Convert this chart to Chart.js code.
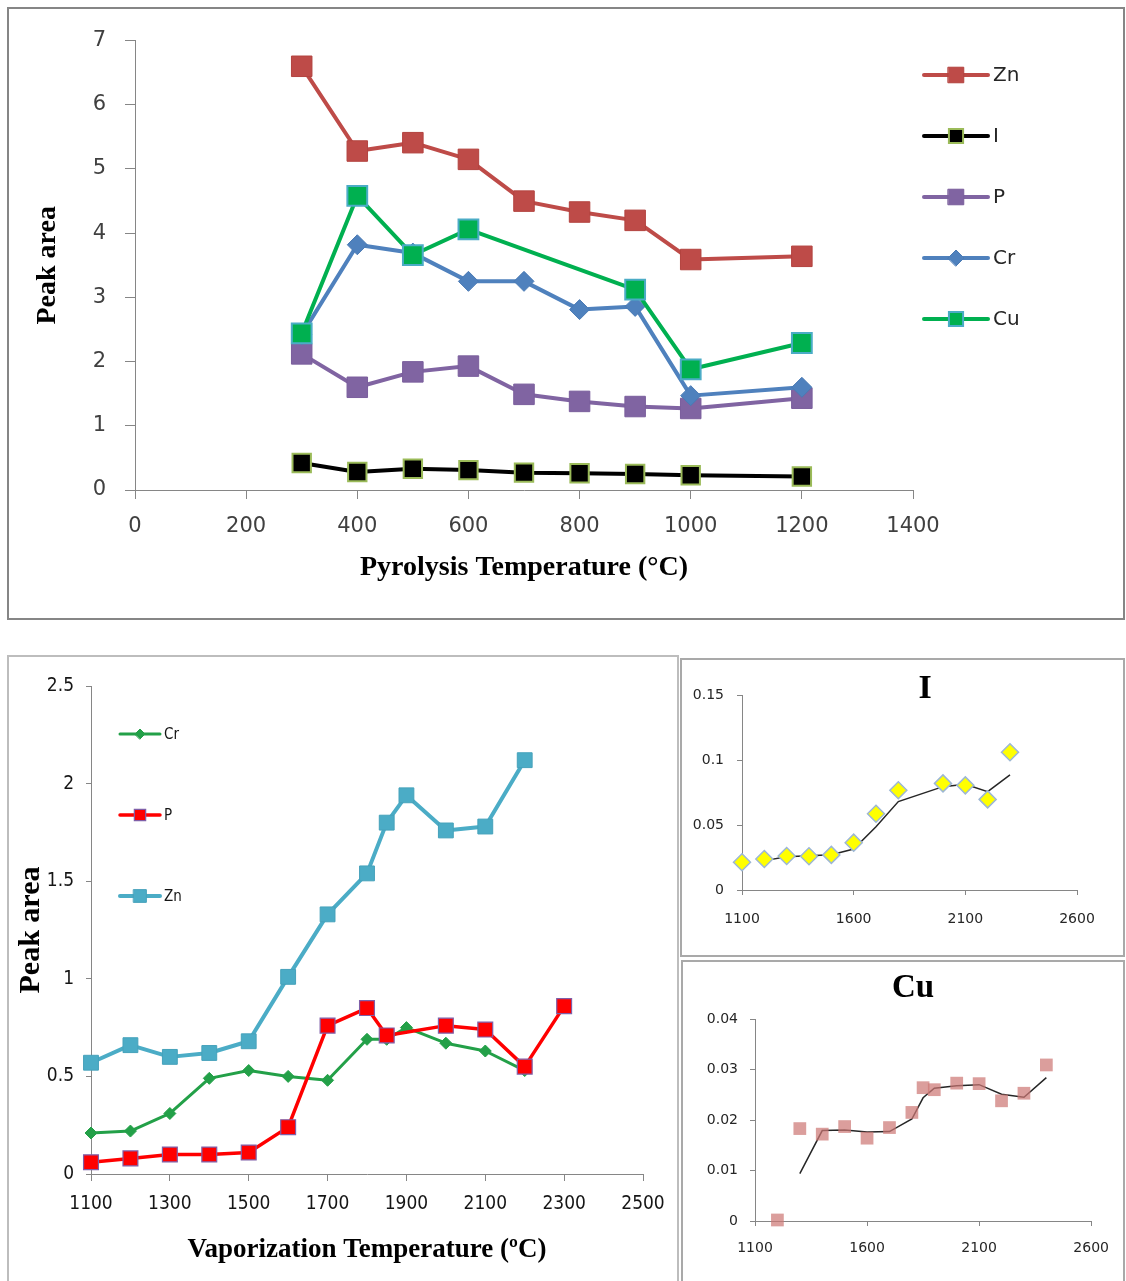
<!DOCTYPE html>
<html>
<head>
<meta charset="utf-8">
<title>Peak area vs temperature</title>
<script src="https://cdn.jsdelivr.net/npm/chart.js@4.4.1/dist/chart.umd.min.js"></script>
<style>
  html, body { margin: 0; padding: 0; background: #fff; }
  #page { position: relative; width: 1126px; height: 1281px; overflow: hidden; }
  .panel { position: absolute; box-sizing: border-box; background: #fff; }
  .panel canvas { display: block; }
  #p1 { left: 7px; top: 7px; width: 1118px; height: 613px; border: 2px solid #868686; }
  #p2 { left: 7px; top: 655px; width: 672px; height: 700px; border: 2px solid #bdbdbd; }
  #p3 { left: 680px; top: 658px; width: 445px; height: 299px; border: 2px solid #a9a9a9; }
  #p4 { left: 681px; top: 960px; width: 444px; height: 400px; border: 2px solid #a9a9a9; }
</style>
</head>
<body>
<div id="page">
  <div class="panel" id="p1"><canvas id="pyroChart" width="1114" height="609"></canvas></div>
  <div class="panel" id="p2"><canvas id="vapChart" width="668" height="640"></canvas></div>
  <div class="panel" id="p3"><canvas id="iChart" width="441" height="295"></canvas></div>
  <div class="panel" id="p4"><canvas id="cuChart" width="440" height="330"></canvas></div>
</div>
<script>
// pyrolysis step (top chart)
const pyroTemps = [300, 400, 500, 600, 700, 800, 900, 1000, 1200];
const pyroZn = [6.6, 5.28, 5.41, 5.15, 4.5, 4.33, 4.2, 3.59, 3.64];
const pyroI = [0.42, 0.28, 0.33, 0.31, 0.27, 0.26, 0.25, 0.23, 0.21];
const pyroP = [2.12, 1.6, 1.84, 1.93, 1.49, 1.38, 1.3, 1.27, 1.43];
const pyroCr = [2.42, 3.82, 3.69, 3.25, 3.25, 2.81, 2.86, 1.47, 1.6];
const pyroCu = [2.44, 4.58, 3.66, 4.06, null, null, 3.12, 1.88, 2.29];

// vaporization step (bottom left chart)
const vapTemps = [1100, 1200, 1300, 1400, 1500, 1600, 1700, 1800, 1850, 1900, 2000, 2100, 2200, 2300];
const vapCr = [0.21, 0.22, 0.31, 0.49, 0.53, 0.5, 0.48, 0.69, 0.69, 0.75, 0.67, 0.63, 0.53, null];
const vapP = [0.06, 0.08, 0.1, 0.1, 0.11, 0.24, 0.76, 0.85, 0.71, null, 0.76, 0.74, 0.55, 0.86];
const vapZn = [0.57, 0.66, 0.6, 0.62, 0.68, 1.01, 1.33, 1.54, 1.8, 1.94, 1.76, 1.78, 2.12, null];

// iodine: points + 2-point moving average line
const iTemps = [1100, 1200, 1300, 1400, 1500, 1600, 1700, 1800, 2000, 2100, 2200, 2300];
const iPeak = [0.0213, 0.0238, 0.0262, 0.026, 0.027, 0.0364, 0.0587, 0.0767, 0.082, 0.0805, 0.0697, 0.106];
const iTrend = [null, 0.0226, 0.0256, 0.0264, 0.0272, 0.0315, 0.0487, 0.068, 0.0795, 0.0813, 0.0756, 0.0885];

// copper: points + 2-point moving average line
const cuTemps = [1200, 1300, 1400, 1500, 1600, 1700, 1800, 1850, 1900, 2000, 2100, 2200, 2300, 2400];
const cuPeak = [0.0002, 0.0183, 0.0172, 0.0187, 0.0164, 0.0185, 0.0215, 0.0264, 0.026, 0.0273, 0.0272, 0.0238, 0.0253, 0.0309];
const cuTrend = [null, 0.0094, 0.0179, 0.018, 0.0176, 0.0177, 0.0202, 0.0244, 0.0263, 0.0268, 0.027, 0.0251, 0.0245, 0.0284];

const AXIS = '#868686';
const SERIF = '"Liberation Serif", "Times New Roman", serif';
const SANS = '"DejaVu Sans", sans-serif';
const NARROW = '"Liberation Sans Narrow", "DejaVu Sans Condensed", "DejaVu Sans", sans-serif';

Chart.defaults.animation = false;
Chart.defaults.events = [];
Chart.defaults.font.family = SANS;
Chart.defaults.plugins.legend.display = false;
Chart.defaults.plugins.tooltip.enabled = false;

function pts(xs, ys) {
    return xs.map((x, i) => ({x, y: ys[i]}));
}

//axis - 공통 설정 (size = 축 영역 폭/높이 고정)
function linAxis(o) {
    return {
        type: 'linear',
        position: o.pos,
        min: o.min,
        max: o.max,
        afterFit: s => { if (o.pos === 'left') s.width = o.size; else s.height = o.size; },
        border: {display: true, color: AXIS, width: 1},
        grid: {drawOnChartArea: false, drawTicks: true, tickLength: o.tick, color: AXIS},
        ticks: {
            stepSize: o.step,
            padding: o.pad,
            color: o.color || '#262626',
            font: {family: o.family || SANS, size: o.fs},
            maxRotation: 0,
            autoSkip: false,
            callback: v => String(+v.toFixed(4))
        },
        title: o.title ? {
            display: true,
            text: o.title,
            color: '#000',
            font: {family: SERIF, size: o.tfs, weight: 'bold'},
            padding: o.pos === 'left' ? {top: o.tpad, bottom: 0} : {top: 0, bottom: o.tpad}
        } : {display: false}
    };
}

function drawMarker(ctx, ds, x, y, r) {
    ctx.fillStyle = ds.pointBackgroundColor;
    ctx.strokeStyle = ds.pointBorderColor;
    ctx.lineWidth = ds.pointBorderWidth;
    Chart.helpers.drawPoint(ctx, {pointStyle: ds.pointStyle, radius: r, rotation: 0, borderWidth: ds.pointBorderWidth}, x, y);
}

//legend - 선 + 마커 + 이름, 세로로 나열
const sideLegend = {
    id: 'sideLegend',
    afterDraw(chart, args, o) {
        if (!o.x) return;
        const {ctx} = chart;
        ctx.save();
        chart.data.datasets.forEach((ds, i) => {
            const y = o.y + i * o.step;
            ctx.strokeStyle = ds.borderColor;
            ctx.lineWidth = ds.borderWidth;
            ctx.lineCap = 'round';
            ctx.beginPath();
            ctx.moveTo(o.x, y);
            ctx.lineTo(o.x + o.len, y);
            ctx.stroke();
            drawMarker(ctx, ds, o.x + o.len / 2, y, o.radius[i]);
            ctx.fillStyle = o.color;
            ctx.font = o.font;
            ctx.textAlign = 'left';
            ctx.textBaseline = 'middle';
            ctx.fillText(ds.label, o.x + o.len + o.gap, y + 1);
        });
        ctx.restore();
    }
};

//panel title (small charts)
const panelTitle = {
    id: 'panelTitle',
    afterDraw(chart, args, o) {
        if (!o.text) return;
        const {ctx} = chart;
        ctx.save();
        ctx.fillStyle = '#000';
        ctx.font = o.font;
        ctx.textAlign = 'center';
        ctx.textBaseline = 'middle';
        ctx.fillText(o.text, o.x, o.y);
        ctx.restore();
    }
};

function lineSet(label, xs, ys, c) {
    return {
        label,
        data: pts(xs, ys),
        borderColor: c.line,
        backgroundColor: c.fill,
        borderWidth: c.width,
        borderJoinStyle: 'round',
        borderCapStyle: 'round',
        tension: 0,
        spanGaps: true,
        clip: false,
        pointStyle: c.style,
        pointRadius: c.r,
        pointBackgroundColor: c.fill,
        pointBorderColor: c.edge || c.fill,
        pointBorderWidth: c.edgeW || 1,
        order: c.order
    };
}

// top: pyrolysis temperature
new Chart(document.getElementById('pyroChart'), {
    type: 'line',
    data: {
        datasets: [
            lineSet('Zn', pyroTemps, pyroZn, {line: '#BE4B48', fill: '#BE4B48', edge: '#B3433F', width: 4, style: 'rect', r: 14.5, order: 5}),
            lineSet('I', pyroTemps, pyroI, {line: '#000', fill: '#000', edge: '#9BBB59', edgeW: 2, width: 4, style: 'rect', r: 13, order: 4}),
            lineSet('P', pyroTemps, pyroP, {line: '#8064A2', fill: '#8064A2', edge: '#7A5E9C', width: 4, style: 'rect', r: 14.5, order: 3}),
            lineSet('Cr', pyroTemps, pyroCr, {line: '#4F81BD', fill: '#4F81BD', edge: '#4A7AB4', width: 4, style: 'rectRot', r: 10, order: 2}),
            lineSet('Cu', pyroTemps, pyroCu, {line: '#00B050', fill: '#00B050', edge: '#4BACC6', edgeW: 2, width: 4, style: 'rect', r: 14, order: 1})
        ]
    },
    options: {
        responsive: false,
        layout: {padding: {left: 0, top: 30, right: 210, bottom: 0}},
        scales: {
            x: linAxis({pos: 'bottom', min: 0, max: 1400, step: 200, size: 128, tick: 9, pad: 15, fs: 21, color: '#404040',
                title: 'Pyrolysis Temperature (°C)', tfs: 28, tpad: 33}),
            y: linAxis({pos: 'left', min: 0, max: 7, step: 1, size: 126, tick: 10, pad: 19, fs: 21, color: '#404040',
                title: 'Peak area', tfs: 28, tpad: 22})
        },
        plugins: {
            sideLegend: {x: 915, y: 66, step: 61, len: 64, gap: 5, radius: [11, 10, 11, 8, 10], font: '20px ' + SANS, color: '#262626'}
        }
    },
    plugins: [sideLegend]
});

// bottom left: vaporization temperature
new Chart(document.getElementById('vapChart'), {
    type: 'line',
    data: {
        datasets: [
            lineSet('Cr', vapTemps, vapCr, {line: '#23A048', fill: '#23A048', width: 3, style: 'rectRot', r: 6, order: 3}),
            lineSet('P', vapTemps, vapP, {line: '#FF0000', fill: '#FF0000', edge: '#7F5FA8', edgeW: 1.2, width: 3.5, style: 'rect', r: 10.5, order: 2}),
            lineSet('Zn', vapTemps, vapZn, {line: '#4BACC6', fill: '#4BACC6', edge: '#46A2BB', width: 4, style: 'rect', r: 10.5, order: 1})
        ]
    },
    options: {
        responsive: false,
        layout: {padding: {left: 0, top: 29, right: 34, bottom: 0}},
        scales: {
            x: linAxis({pos: 'bottom', min: 1100, max: 2500, step: 200, size: 123, tick: 7, pad: 12, fs: 19, family: NARROW, color: '#151515',
                title: 'Vaporization Temperature (ºC)', tfs: 27, tpad: 31}),
            y: linAxis({pos: 'left', min: 0, max: 2.5, step: 0.5, size: 82, tick: 5, pad: 12, fs: 19, family: NARROW, color: '#151515',
                title: 'Peak area', tfs: 30, tpad: 4})
        },
        plugins: {
            sideLegend: {x: 111, y: 77, step: 81, len: 40, gap: 4, radius: [5, 8, 9], font: '15px ' + NARROW, color: '#151515'}
        }
    },
    plugins: [sideLegend]
});

// small panel: I
new Chart(document.getElementById('iChart'), {
    type: 'scatter',
    data: {
        datasets: [
            {label: 'I', data: pts(iTemps, iPeak), showLine: false, clip: false, order: 1,
                pointStyle: 'rectRot', pointRadius: 8.5, pointBackgroundColor: '#FFFF00', pointBorderColor: '#9DB7D5', pointBorderWidth: 1.5},
            {label: 'trend', data: pts(iTemps, iTrend), showLine: true, clip: false, order: 2, spanGaps: true,
                borderColor: '#262626', borderWidth: 1.5, tension: 0, pointRadius: 0}
        ]
    },
    options: {
        responsive: false,
        layout: {padding: {left: 0, top: 35, right: 46, bottom: 0}},
        scales: {
            x: linAxis({pos: 'bottom', min: 1100, max: 2600, step: 500, size: 65, tick: 5, pad: 16, fs: 14}),
            y: linAxis({pos: 'left', min: 0, max: 0.15, step: 0.05, size: 60, tick: 5, pad: 13, fs: 14})
        },
        plugins: {
            panelTitle: {text: 'I', x: 243, y: 29, font: 'bold 34px ' + SERIF}
        }
    },
    plugins: [panelTitle]
});

// small panel: Cu
new Chart(document.getElementById('cuChart'), {
    type: 'scatter',
    data: {
        datasets: [
            {label: 'Cu', data: pts(cuTemps, cuPeak), showLine: false, clip: false, order: 1,
                pointStyle: 'rect', pointRadius: 9, pointBackgroundColor: 'rgba(205,120,118,0.72)', pointBorderColor: 'rgba(205,120,118,0)', pointBorderWidth: 0},
            {label: 'trend', data: pts(cuTemps, cuTrend), showLine: true, clip: false, order: 2, spanGaps: true,
                borderColor: '#262626', borderWidth: 1.5, tension: 0, pointRadius: 0}
        ]
    },
    options: {
        responsive: false,
        layout: {padding: {left: 0, top: 57, right: 28, bottom: 0}},
        scales: {
            x: linAxis({pos: 'bottom', min: 1100, max: 2600, step: 500, size: 71, tick: 5, pad: 14, fs: 14}),
            y: linAxis({pos: 'left', min: 0, max: 0.04, step: 0.01, size: 72, tick: 5, pad: 12, fs: 14})
        },
        plugins: {
            panelTitle: {text: 'Cu', x: 230, y: 26, font: 'bold 33px ' + SERIF}
        }
    },
    plugins: [panelTitle]
});
</script>
</body>
</html>
